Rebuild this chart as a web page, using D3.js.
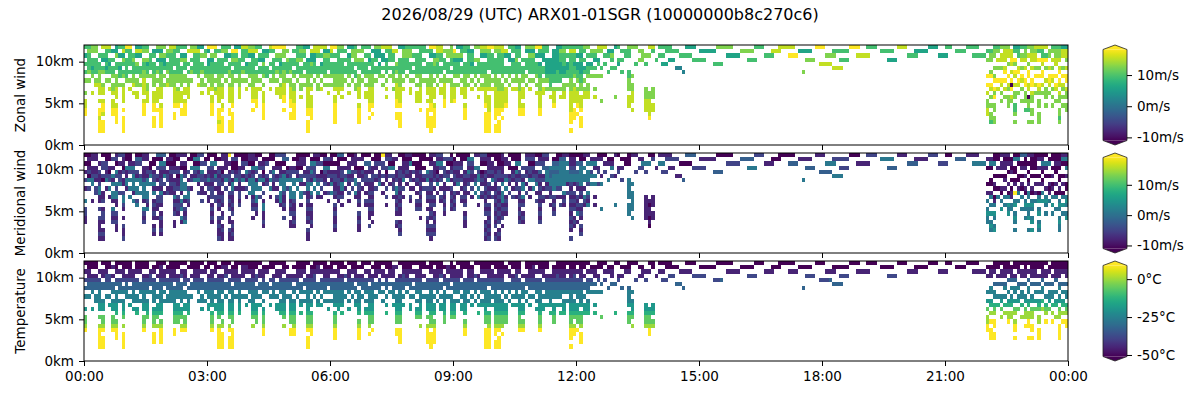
<!DOCTYPE html>
<html><head><meta charset="utf-8">
<script src="https://cdn.jsdelivr.net/npm/d3@7"></script>
<style>body{margin:0;background:#fff}svg{display:block;font-family:"DejaVu Sans",sans-serif}</style>
</head><body><svg id="chart" width="1200" height="400"></svg>
<script>
// ---------------- data ----------------
const title = "2026/08/29 (UTC) ARX01-01SGR (10000000b8c270c6)";
const binMinutes = 5;            // one time column
const binKm = 0.5;               // one altitude row
const topKm = 12;                // rows are counted downward from 12 km
const timeTicks = [0, 180, 360, 540, 720, 900, 1080, 1260, 1440];
const timeTickLabels = ["00:00", "03:00", "06:00", "09:00", "12:00", "15:00", "18:00", "21:00", "00:00"];
const altTicks = [0, 5, 10];
const altTickLabels = ["0km", "5km", "10km"];
const panelNames = ["Zonal wind", "Meridional wind", "Temperature"];

// value of each code character 0-9
const zonalLevels = [-11, -8, -4, -1, 2, 6, 9.5, 12.5, 15.5, 18.2];
const meridionalLevels = [-12, -8, -5, -2, 1, 4, 8, 11, 15, 19];
const temperatureLevels = [-52, -45, -38, -32, -25, -19, -13, -6, 0, 9];
const zonalRange = [-11, 18.2];
const meridionalRange = [-11, 19];
const temperatureRange = [-51, 9];
const windTicks = [-10, 0, 10];
const windTickLabels = ["-10m/s", "0m/s", "10m/s"];
const temperatureTicks = [-50, -25, 0];
const temperatureTickLabels = ["-50°C", "-25°C", "0°C"];

// Upper rows (12-10 km), one string per 0.5 km row, one 12-character block per hour ('.' = no data)
const zonalUpper = [
"6677.888.566 99.5566..777 .88666.7755. 999.666.5588 7766..89999. ..6655.8888. 9977.556.666 .77888..5566 6666.9988..7 .5566.778899 888.6655.777 9966..556666 6677..888..5 6..777...88. 6666....555. .....77777.. ....666....8 8888......99 9.......999. .666......88 8......555.. 66....6666.. ..66777.5566 778888.66655",
".777..6655.8 66.8877.555. 7766..8888.6 5.6677.99.66 888.5566..77 .6677.888.55 8.666.7777.. 555.6688.777 ..6666.88777 9.6655..777. 7788.666.555 .666.5577.88 .66.7777.55. .666..77..6. ..6666...... 55555....... 7777.....888 .....5555... ...66666.... .....6666... ...5555..... ...666...... 6677.88866.7 .7766.777788",
"56..666..755 .6655..66.77 666.55..6677 .77..5566.66 55.666..777. ..666.556677 666..577..66 .555.66..777 666..5566.77 777.66..5566 .6655.66..77 555..5566666 55.666..667. ..66...777.. 66....6666.. ........5555 .......666.. ..999....... .777......88 88.......... .666......55 5.......6666 .77.8888.677 888.667.7788",
".666.5566..7 667..776.555 .66677.666.. 55.666.7766. .6655..666.7 6677.555..66 ..6666.777.5 66.5566.666. .666..7766.6 555.6677..66 666.557.6666 ..5555566.66 .66..55...6. 66....77...6 ...55.....66 66.......... ..666....... .......777.. .....666.... .......555.. ............ ............ 77.888.99.88 .88999.888.7"
];
const meridionalUpper = [
"0011.000.122 00.0011..333 .00111.0022. 000.119.0000 1100..00222. ..0000.1100. 0033.001.000 .00911..0011 0000.1122..0 .0000.112200 001.0000.111 0022..001100 0011..000..1 0..011...00. 1111....333. .....00000.. ....222....0 0000......11 1.......000. .222......11 1......222.. 00....1111.. ..00111.0033 110000.00011",
".111..0022.1 00.3311.000. 1100..0044.0 0.0011.22.00 111.0000..33 .0011.000.22 1.000.1111.. 000.2211.000 ..0000.11222 0.0044..111. 0011.000.222 .111.0033.11 .00.1111.00. .000..11..2. ..2222...... 11111....... 3333.....000 .....1111... ...22222.... .....4444... ...1111..... ...333...... 1100.00044.0 .0011.000044",
"00..122..011 .1122..00.44 000.11..0022 .44..1100.22 00.112..000. ..111.442200 000..111..33 .222.00..114 000..1144.00 111.22..0011 .0011.44..00 222..3344411 33.444..111. ..00...444.. 44....0000.. ........2222 .......111.. ..333....... .444......11 11.......... .333......22 2.......4444 .44.1111.000 000.444.1100",
".111.2211..0 444..110.222 .11100.444.. 22.111.0011. .4422..111.0 1100.222..44 ..1111.000.2 11.2244.111. .000..1122.1 222.1144..11 111.000.2222 ..3344444.22 .44..11...4. 11....22...1 ...11.....22 22.......... ..444....... .......333.. .....222.... .......333.. ............ ............ 00.111.00.11 .00111.000.4"
];
const temperatureUpper = [
"0000.000.000 00.0000..000 .00000.0000. 000.000.0000 0000..00000. ..0000.0000. 0000.000.000 .00000..0000 0000.0000..0 .0000.000000 000.0000.000 0000..000000 0000..000..0 0..000...00. 0000....000. .....00000.. ....000....0 0000......00 0.......000. .000......00 0......000.. 00....0000.. ..00000.0000 000000.00000",
".000..0010.0 00.0000.001. 0000..0000.0 0.0011.00.11 000.0000..00 .0000.001.00 0.000.0000.. 000.0011.000 ..0000.00010 0.0000..000. 0000.000.001 .000.0000.00 .00.0000.00. .000..00..0. ..0000...... 00000....... 0000.....000 .....0000... ...00000.... .....0000... ...0000..... ...000...... 0000.00000.0 .0000.000000",
"11..111..111 .1111..11.11 111.11..1111 .11..1111.11 11.111..111. ..111.111111 111..111..11 .111.11..111 111..1111.11 111.11..1111 .1111.11..11 111..1111111 11.111..111. ..11...111.. 11....1111.. ........1111 .......111.. ..111....... .111......11 11.......... .111......11 1.......1111 .11.1111.111 111.111.1111",
".111.1221..1 111..112.111 .11121.111.. 11.112.1111. .1211..111.1 1111.112..11 ..1121.111.1 11.1111.121. .111..1121.1 111.1121..11 111.112.1111 ..1111211.12 .11..11...1. 11....11...1 ...22.....22 22.......... ..222....... .......222.. .....222.... .......222.. ............ ............ 11.111.11.11 .11111.111.1"
];

// Profiles below 10 km: one string per 5-minute column, character i = row (4 + i) counted down from 12 km
const zonalProfiles = [
"6.6.7..7.8899","667.7","6567...8","666.78","66777888.8.998999",".67..788.8998.999","656.7","566.7.8",".667.778.8899","66.777888.89999","6566.7","6.67.78888.9.9999",
"66667","6.6.7.8","666778.8","766.77.88",".667.7","66778888.8999","5667.77888","66.7","666777.88899.999",".67.7.8888.9","666777888.899999","56.7.7",
"667.78","666777","6.677788889.99","66677.78889",".66777.888.99","66.77.88.8999","6.6.77888",".67.7","666","6667.8","667.77.8",".667.7",
"56677.88","6667778.88999","666.7.78","6667778888.999899","6667.7888.89.9999",".66.7","6677.78888.99.999","6.677788889.99999","666.7","666777888",".67.7","566.7.8",
"6667.7","6667778889.9","6.677.88899",".66.7.8","7667.7.8889999",".666","6.6.7.8","66677",".67.7.88","5667.7888","6677788899.9","666.7",
"667.7788899.99","6.67.778889999","666.7",".667.77.8","66.7.7","6667778888899.999","7667.78.888999","666.7",".667.77","566.7.8","6667.7","66.7.7.8",
"6667.7","6667778.8899999","66677788","6667778.8",".66.7","6667.7.8","666.7","6.66.77","66.777888.89999","666.7","6667.7.88","6.6777888899.9",
"66677788889.9",".66.7","5667",".6.7.7","666.7.8.8",".6.7",".6677.7","767.7888899.99","66677788889.9999","666.7.8","66.7","666.7.88",
"6.6.7","6667.7.888","6667778888.9",".66.7","666.7788.8.99999","666777888899.9999","766.7.888.899999","6667.7",".66.7.88","66.77888899","666.7","6.6.778888",
"6667.78889","6667.7",".66.7.88","666777888.8999","6667.7","566.7.8",".667.7","666.7.8.8","6667.78","66677788889.99999","66.7778.888899999","666.7.8",
"66677788888999.99","666.777888899.999","6667.7788889.9",".66.7.88889",".667.7","666.7.8","66677.8","666.777888899",".6677.888.899","66.7.7","666.7.8","666.7",
"6667.7.8","5666777888899",".66.7.88","55567.7","5556667.8","55566.78889","55666.7","55566.7.8","6556.7788","5566.7","666677788888999.9","5667.78888.999",
"55667.78889.9","5556677.8889.999",".56.7.788","5667.7788","56.7",".6.7..7.8","6..7",".6.7.....7","6","..6",".6",".6......7",
"5","..6","","..66777.888","...7.77888.8","6","","","6.....777888",".......7788889","......777.88","",
"","5","5","","",".4",".4","..4","","","","",
"","","","","6","6","6","","","","","",
"","","","","","","","","","","","",
"","","","","","","..7","","","","","8",
"8","8","8",".8",".8",".8","","","","","","",
"","","","","","","","","","","","",
"","","","","","","","","","","","",
"","","","","","","","","","","","",
"...9.9.8.7788","..79.98.7.7.776",".7.79.979.77.77",".7..9.8",".7..98.7.7",".89.9.8.7","7..9.87.777","8.8.909.87","7.98.8.77.667.7",".89.98.7",".7.98.7..7",".8..99.777.6",
"7.99.88.0776..7",".8..99.877.77.7",".7.9.8.7",".7.9.987.77.777","8.99.8.7",".7..8.777.7",".8.998.7",".7.98.7.7.7","8..9.98..7",".89.98.877.7767",".7.9.87.7.7",".8.99.877.77"
];
const meridionalProfiles = [
"1.2.1..4.2211","204.2","1244...1","121.22","21124411.2.211121",".20..112.1221.121","124.1","022.4.1",".414.441.4212","42.424411.21211","1224.2","2.11.24421.1.2112",
"11441","2.4.4.4","244441.4","214.44.24",".244.4","11244441.4212","2144.44214","24.4","122414.12121.121",".21.1.2211.1","112214221.121121","14.2.1",
"122.12","211211","2.122141212.11","20112.21221",".44441.424.41","12.44.41.2124","2.1.24421",".12.1","214","1241.2","422.11.2",".121.1",
"12412.11","1121222.12121","142.1.22","2122112121.212112","0212.1221.12.1211",".24.2","1221.21212.11.211","2.144211212.12121","124.1","222112212",".14.1","421.2.1",
"2144.4","1244441212.1","2.144.44121",".24.4.2","0141.2.1441121",".212","2.4.4.1","42211",".12.1.21","1244.4441","1444421121.2","214.2",
"224.4441212.11","2.44.442112121","214.4",".241.44.1","12.1.2","1224411212121.211","4214.42.121121","224.4",".124.41","012.2.1","2112.1","12.1.2.1",
"1214.4","1221121.2121121","11221121","2214412.1",".24.1","4121.2.1","212.2","2.44.41","11.221121.21211","212.1","1221.1.21","1.2112121211.2",
"12211212121.1",".21.2","1124",".2.1.1","011.2.2.1",".2.1",".2122.1","112.4412121.21","22112121211.1212","124.2.1","21.1","112.1.21",
"2.1.1","1121.1.212","2112121212.1",".21.2","424.2121.1.21212","221221212121.2121","112.1.212.121212","0214.1",".12.1.21","22.11212121","124.1","2.1.212121",
"1221.21212","1124.1",".12.1.21","121121212.1211","4212.1","211.2.1",".124.4","244.4.4.1","0121.21","12112121212.12121","21.2121.212121212","214.1.2",
"12211212121212.12","221.212121212.121","1214.4441212.1",".24.4.12121",".121.2","121.1.2","41212.1","212.212121212",".2144.412.121","12.1.2","214.1.1","124.4",
"1224.1.2","3121212121212",".12.1.21","44412.1","3344212.1","34444.21212","34442.1","44442.1.2","4444.4121","4441.2","344212121212121.2","3441.21212.121",
"34421.21214.1","4444121.2121.212",".44.1.421","4442.4214","24.4",".4.4..1.1","2..2",".1.4.....4","2","..4",".2",".1......4",
"2","..2","","..44444.444","...4.44444.4","2","","","2.....111111",".......1011010","......111.11","",
"","2","2","","",".1",".1","..3","","","","",
"","","","","3","3","3","","","","","",
"","","","","","","","","","","","",
"","","","","","","..4","","","","","3",
"3","3","3",".4",".4",".4","","","","","","",
"","","","","","","","","","","","",
"","","","","","","","","","","","",
"","","","","","","","","","","","",
"...0.1.4.4544","..00.14.4.5.454",".0.10.014.54.45",".0..0.4",".0..10.4.5",".01.1.4.4","0..1.04.545","1.0.011.44","0.01.9.45.454.4",".00.14.4",".0.10.4..4",".1..10.454.4",
"0.01.44.5445..4",".0..10.454.45.5",".0.1.1.4",".0.1.045.45.454","0.01.4.5",".0..1.454.4",".0.101.4",".1.01.4.5.4","0..1.04..4",".00.10.454.4544",".0.1.04.5.4",".1.00.454.45"
];
const temperatureProfiles = [
"2.3.4..5.7789","233.4","2334...5","233.44","23344455.7.899999",".33..455.7789.999","233.4","233.4.5",".334.455.7789","23.444556.78999","2334.4","2.34.45567.8.9999",
"23344","2.3.4.5","233444.5","233.44.56",".334.4","23344455.7789","2334.45567","23.4","233444.56778.999",".33.4.5567.8","233444556.789999","23.4.4",
"233.44","233444","2.344455677.99","23344.55677",".33444.567.89","23.44.55.7789","2.3.44556",".33.4","233","2334.4","233.44.5",".334.4",
"23344.55","2334445.67789","233.4.55","2334445567.899999","2334.4556.78.9999",".33.4","2334.45567.89.999","2.344455677.99999","233.4","233444556",".33.4","233.4.5",
"2334.4","2334445567.8","2.344.55677",".33.4.5","2334.4.5677899",".334","2.3.4.5","23344",".33.4.55","2334.4556","2334445567.8","233.4",
"233.4455677.99","2.34.455677899","233.4",".334.45.6","23.4.4","2334445567789.999","2334.45.677899","233.4",".334.45","233.4.5","2334.4","23.4.4.5",
"2334.4","2334445.6778999","23344455","2334445.6",".33.4","2334.4.5","233.4","2.34.45","23.444556.78999","233.4","2334.4.56","2.3444556778.9",
"23344455677.9",".33.4","2334",".3.4.4","233.4.5.6",".3.4",".3344.5","233.4455677.99","23344455677.9999","233.4.5","23.4","233.4.55",
"2.3.4","2334.4.567","2334445567.8",".33.4","233.4455.7.89999","233444556778.9999","233.4.556.789999","2334.4",".33.4.55","23.44455677","233.4","2.3.445567",
"2334.45567","2334.4",".33.4.55","233444556.7899","2334.4","233.4.5",".334.4","233.4.5.6","2334.45","23344455677.99999","23.4445.677899999","233.4.5",
"23344455677899.99","233.445567789.999","2334.4556778.9",".33.4.55677",".334.4","233.4.5","23344.5","233.445567789",".3344.556.789","23.4.4","233.4.5","233.4",
"2334.4.5","2334445567789",".33.4.55","23344.5","2334445.6","23344.55677","23344.5","23344.5.6","2334.4556","2334.4","233444556778999.9","2334.45567.899",
"23344.55677.9","2334445.6778.999",".33.4.556","2334.4556","23.4",".3.4..5.6","2..4",".3.4.....7","2","..3",".3",".3......6",
"2","..3","","..34445.677","...4.45567.8","2","","","2.....556778",".......5677899","......556.78","",
"","2","2","","",".3",".3","..3","","","","",
"","","","","2","2","3","","","","","",
"","","","","","","","","","","","",
"","","","","","","..3","","","","","2",
"2","2","3",".3",".3",".3","","","","","","",
"","","","","","","","","","","","",
"","","","","","","","","","","","",
"","","","","","","","","","","","",
"...4.5.7.8899","..44.56.8.9.999",".3.44.678.99.99",".3..4.6",".3..45.7.8",".34.4.6.8","3..4.56.889","3.4.456.88","3.44.5.78.899.9",".34.45.7",".3.44.6..8",".3..45.788.9",
"3.44.56.8899..9",".3..45.788.99.9",".3.4.5.7",".3.4.567.88.999","3.44.6.8",".3..4.678.9",".3.445.7",".3.44.6.8.9","3..4.56..8",".34.45.788.9999",".3.4.56.8.9",".3.44.678.99"
];

// ---------------- drawing ----------------
const svg = d3.select("#chart");
const left = 84, right = 1068, panelH = 100;
const panelTops = [45, 153, 261];
const cbX = 1103, cbW = 24, ext = 4.5;
const colsPerHour = 60 / binMinutes;

svg.append("text").attr("x", 600).attr("y", 20).attr("text-anchor", "middle")
  .attr("font-size", "16px").attr("fill", "#000").text(title);

const x = d3.scaleLinear().domain([0, 1440]).range([left, right]);

const panels = [
  {upper: zonalUpper, profiles: zonalProfiles, levels: zonalLevels, range: zonalRange, ticks: windTicks, tickLabels: windTickLabels},
  {upper: meridionalUpper, profiles: meridionalProfiles, levels: meridionalLevels, range: meridionalRange, ticks: windTicks, tickLabels: windTickLabels},
  {upper: temperatureUpper, profiles: temperatureProfiles, levels: temperatureLevels, range: temperatureRange, ticks: temperatureTicks, tickLabels: temperatureTickLabels}
];

function buildCells(p) {
  const cells = [];
  const push = (c, r, ch) => {
    if (ch === "." || ch === undefined) return;
    cells.push({t0: c * binMinutes, t1: (c + 1) * binMinutes, a1: topKm - r * binKm, a0: topKm - (r + 1) * binKm, v: p.levels[+ch]});
  };
  p.upper.forEach((row, r) => {
    row.split(" ").forEach((block, h) => {
      for (let k = 0; k < block.length; k++) push(h * colsPerHour + k, r, block[k]);
    });
  });
  const offset = p.upper.length;
  p.profiles.forEach((col, c) => {
    for (let i = 0; i < col.length; i++) push(c, offset + i, col[i]);
  });
  return cells;
}

const defs = svg.append("defs");
const grad = defs.append("linearGradient").attr("id", "viridisGrad")
  .attr("x1", 0).attr("y1", 1).attr("x2", 0).attr("y2", 0);
d3.range(0, 1.0001, 0.02).forEach(t => grad.append("stop").attr("offset", t).attr("stop-color", d3.interpolateViridis(t)));

panels.forEach((p, pi) => {
  const top = panelTops[pi], bottom = top + panelH;
  const y = d3.scaleLinear().domain([0, topKm]).range([bottom, top]);
  const color = d3.scaleSequential(d3.interpolateViridis).domain(p.range).clamp(true);
  const g = svg.append("g");

  g.append("g").attr("shape-rendering", "crispEdges").selectAll("rect").data(buildCells(p)).join("rect")
    .attr("x", d => x(d.t0)).attr("width", d => x(d.t1) - x(d.t0))
    .attr("y", d => y(d.a1)).attr("height", d => y(d.a0) - y(d.a1))
    .attr("fill", d => color(d.v));

  g.append("rect").attr("x", left).attr("y", top).attr("width", right - left).attr("height", panelH)
    .attr("fill", "none").attr("stroke", "#000").attr("stroke-width", 1);

  const yAxis = g.append("g").attr("transform", `translate(${left},0)`)
    .call(d3.axisLeft(y).tickValues(altTicks).tickFormat((d, i) => altTickLabels[i]).tickSize(5).tickPadding(5));
  const xAxis = g.append("g").attr("transform", `translate(0,${bottom})`)
    .call(d3.axisBottom(x).tickValues(timeTicks).tickFormat((d, i) => pi === 2 ? timeTickLabels[i] : "").tickSize(5).tickPadding(5));
  [yAxis, xAxis].forEach(a => {
    a.select(".domain").remove();
    a.selectAll("text").attr("font-size", "13.5px").attr("font-family", '"DejaVu Sans",sans-serif').attr("fill", "#000");
    a.selectAll("line").attr("stroke", "#000");
  });

  g.append("text").attr("transform", `translate(20,${top + panelH / 2}) rotate(-90)`)
    .attr("text-anchor", "middle").attr("dominant-baseline", "central")
    .attr("font-size", "13.5px").attr("fill", "#000").text(panelNames[pi]);

  const cTop = top + ext, cBot = bottom - ext;
  const cy = d3.scaleLinear().domain(p.range).range([cBot, cTop]);
  const cb = svg.append("g");
  cb.append("rect").attr("x", cbX).attr("y", cTop).attr("width", cbW).attr("height", cBot - cTop).attr("fill", "url(#viridisGrad)");
  cb.append("polygon").attr("points", `${cbX},${cTop} ${cbX + cbW / 2},${top} ${cbX + cbW},${cTop}`).attr("fill", d3.interpolateViridis(1));
  cb.append("polygon").attr("points", `${cbX},${cBot} ${cbX + cbW / 2},${bottom} ${cbX + cbW},${cBot}`).attr("fill", d3.interpolateViridis(0));
  cb.append("polygon").attr("points", `${cbX},${cTop} ${cbX + cbW / 2},${top} ${cbX + cbW},${cTop} ${cbX + cbW},${cBot} ${cbX + cbW / 2},${bottom} ${cbX},${cBot}`)
    .attr("fill", "none").attr("stroke", "#222").attr("stroke-width", 0.8);
  const cAxis = cb.append("g").attr("transform", `translate(${cbX + cbW},0)`)
    .call(d3.axisRight(cy).tickValues(p.ticks).tickFormat((d, i) => p.tickLabels[i]).tickSize(5).tickPadding(5));
  cAxis.select(".domain").remove();
  cAxis.selectAll("text").attr("font-size", "13.5px").attr("font-family", '"DejaVu Sans",sans-serif').attr("fill", "#000");
  cAxis.selectAll("line").attr("stroke", "#000");
});
</script>
</body></html>
